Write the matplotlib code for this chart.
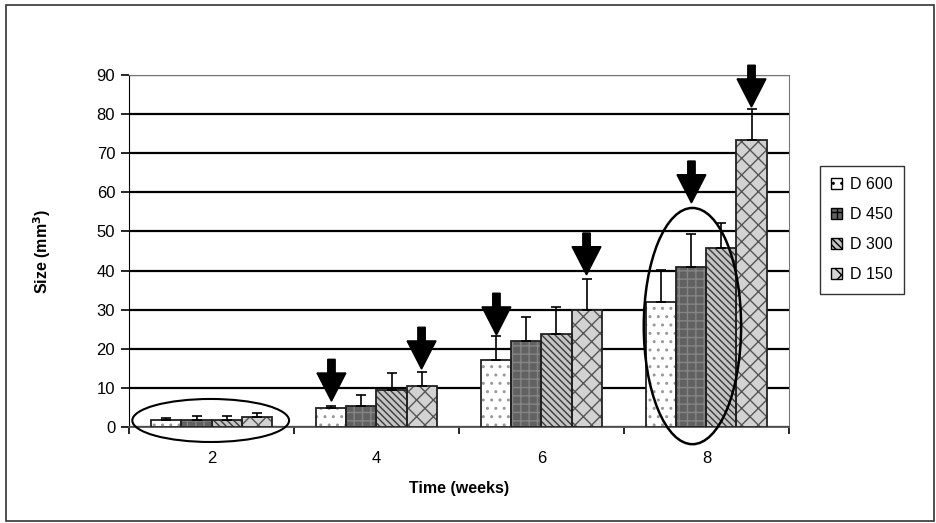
import numpy as np
import matplotlib
matplotlib.use("Agg")
import matplotlib.pyplot as plt
from matplotlib.patches import Ellipse, FancyArrow, Rectangle, Patch

plt.rcParams['font.family'] = ['Liberation Sans', 'DejaVu Sans']
plt.rcParams['hatch.linewidth'] = 1.0

# data
weeks = ['2', '4', '6', '8']
series = ['D 600', 'D 450', 'D 300', 'D 150']
d600 = [1.8, 4.8, 17.0, 32.0]
d450 = [1.8, 5.3, 22.0, 41.0]
d300 = [1.8, 9.5, 23.7, 45.8]
d150 = [2.5, 10.5, 29.9, 73.4]
err600 = [0.5, 0.5, 6.3, 8.2]
err450 = [1.0, 3.0, 6.0, 8.4]
err300 = [0.9, 4.2, 7.0, 6.3]
err150 = [1.0, 3.6, 7.9, 7.9]

# arrows: (week index, series index, tip value)
arrows = [(1, 0, 6.6), (1, 3, 14.8), (2, 0, 23.5), (2, 3, 38.9), (3, 1, 57.3), (3, 3, 81.8)]

values = [d600, d450, d300, d150]
errors = [err600, err450, err300, err150]
faces = ['white', '#616161', '#c4c4c4', '#d2d2d2']
hatch_cols = ['#999999', '#858585', '#3a3a3a', '#555555']
hatches = ['..', '++', '\\\\\\\\\\', 'xx']

fig = plt.figure(figsize=(9.37, 5.23), dpi=100)
ax = fig.add_axes([0.1377, 0.1836, 0.842 - 0.1377, 0.8566 - 0.1836])

x = np.arange(len(weeks))
w = 0.182
for i in range(4):
    pos = x + (i - 1.5) * w
    ax.bar(pos, values[i], w, color=faces[i], hatch=hatches[i], edgecolor=hatch_cols[i],
           linewidth=0, zorder=3)
    ax.bar(pos, values[i], w, fill=False, edgecolor='#222222', linewidth=1.3, zorder=4)
    ax.errorbar(pos, values[i], yerr=[np.zeros(4), errors[i]], fmt='none', ecolor='black',
                elinewidth=1.2, capsize=3.5, capthick=1.2, zorder=5)

# arrows
for g, s, tip in arrows:
    xc = x[g] + (s - 1.5) * w
    ax.add_patch(FancyArrow(xc, tip + 10.7, 0, -10.7, width=0.045, head_width=0.175,
                            head_length=7.2, length_includes_head=True, color='black',
                            zorder=7, clip_on=False))

# ellipses
ax.add_patch(Ellipse((-0.005, 1.66), 0.95, 11.0, fill=False, edgecolor='black', lw=1.5,
                     zorder=6, clip_on=False))
ax.add_patch(Ellipse((2.915, 25.8), 0.59, 60.4, fill=False, edgecolor='black', lw=1.8,
                     zorder=6, clip_on=False))

ax.set_xlim(-0.5, 3.5)
ax.set_ylim(0, 90)
ax.set_yticks(np.arange(0, 91, 10))
ax.yaxis.grid(True, color='black', linewidth=1.6, zorder=0)
ax.set_axisbelow(True)
ax.set_xticks(x)
ax.set_xticklabels(weeks)
ax.set_xticks(np.arange(-0.5, 3.6, 1), minor=True)
ax.tick_params(axis='x', which='major', length=0, labelsize=12, pad=17)
ax.tick_params(axis='x', which='minor', length=5, width=1.2, color='black')
ax.tick_params(axis='y', length=6, width=1.2, labelsize=12, pad=4)

ax.spines['left'].set_color('black')
ax.spines['bottom'].set_color('#555555')
ax.spines['bottom'].set_linewidth(1.3)
ax.spines['top'].set_color('#777777')
ax.spines['right'].set_color('#777777')

ax.set_xlabel('Time (weeks)', fontsize=11.5, fontweight='bold', labelpad=11)
ax.set_ylabel('Size (mm$^\\mathbf{3}$)', fontsize=11.5, fontweight='bold', labelpad=31)

handles = [Patch(facecolor=faces[i], edgecolor='black', hatch=hatches[i], linewidth=1)
           for i in range(4)]
leg = fig.legend(handles, series, loc='center', bbox_to_anchor=(0.92, 0.561),
                 fontsize=11.5, frameon=True, fancybox=False, edgecolor='black',
                 handlelength=0.7, handleheight=0.7, handletextpad=0.5,
                 labelspacing=0.95, borderpad=0.7, borderaxespad=0)
leg.get_frame().set_linewidth(1.0)

# outer chart border
fig.add_artist(Rectangle((6 / 937, 2 / 523), 928 / 937, 516 / 523, transform=fig.transFigure,
                         fill=False, edgecolor='#333333', linewidth=1.2))

plt.savefig('out.png', dpi=100)
